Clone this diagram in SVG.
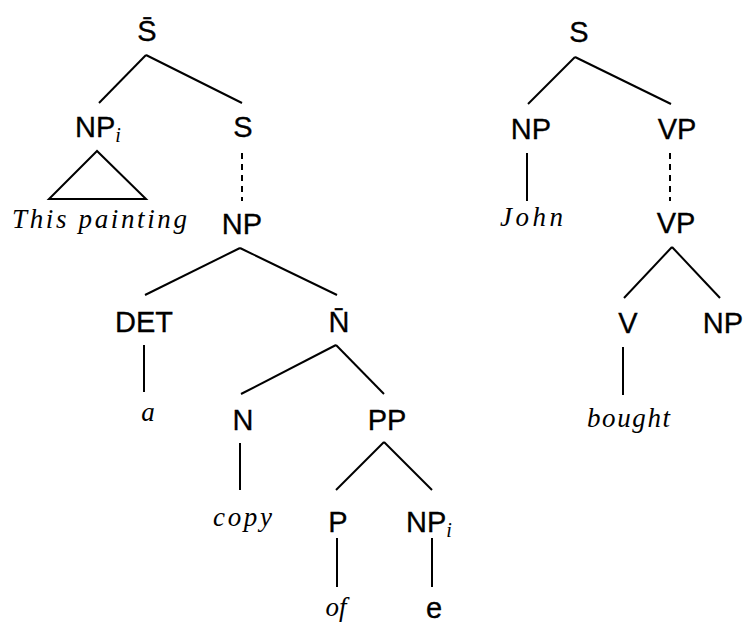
<svg xmlns="http://www.w3.org/2000/svg" width="744" height="627" viewBox="0 0 744 627">
<style>
.cat{font-family:"Liberation Sans","DejaVu Sans",sans-serif;font-size:29px;fill:#000;stroke:#000;stroke-width:0.3;text-anchor:middle}
.word{font-family:"Liberation Serif","DejaVu Serif",serif;font-style:italic;font-size:27px;fill:#000}
.sub{font-family:"Liberation Serif","DejaVu Serif",serif;font-style:italic;font-size:20px;stroke-width:0}
.edge{stroke:#000;stroke-width:2;fill:none}
.dash{stroke:#000;stroke-width:2;fill:none;stroke-dasharray:6 5}
</style>
<rect width="744" height="627" fill="#fff"/>
<g id="connectors">
<line class="edge" x1="146" y1="55" x2="99" y2="103"/>
<line class="edge" x1="146" y1="55" x2="242" y2="103"/>
<polygon class="edge" points="97,151 49,199 146,199"/>
<line class="dash" x1="242" y1="153" x2="242" y2="201"/>
<line class="edge" x1="240" y1="248" x2="145" y2="295"/>
<line class="edge" x1="240" y1="248" x2="337" y2="295"/>
<line class="edge" x1="144" y1="345" x2="144" y2="392"/>
<line class="edge" x1="336" y1="345" x2="241" y2="394"/>
<line class="edge" x1="336" y1="345" x2="384" y2="394"/>
<line class="edge" x1="240" y1="443" x2="240" y2="490"/>
<line class="edge" x1="384" y1="442" x2="336" y2="490"/>
<line class="edge" x1="384" y1="442" x2="432" y2="490"/>
<line class="edge" x1="337" y1="538" x2="337" y2="587"/>
<line class="edge" x1="432" y1="538" x2="432" y2="587"/>
<line class="edge" x1="575" y1="57" x2="528" y2="104"/>
<line class="edge" x1="575" y1="57" x2="671" y2="104"/>
<line class="edge" x1="527" y1="153" x2="527" y2="201"/>
<line class="dash" x1="670" y1="153" x2="670" y2="201"/>
<line class="edge" x1="672" y1="247" x2="624" y2="298"/>
<line class="edge" x1="672" y1="247" x2="720" y2="298"/>
<line class="edge" x1="623" y1="347" x2="623" y2="395"/>
</g>
<g id="n-sbar"><text class="cat" x="147" y="41">S̄</text></g>
<g id="n-npi"><text class="cat" x="75" y="137" style="text-anchor:start">NP<tspan class="sub" dy="5">i</tspan></text></g>
<g id="n-this"><text class="word" x="12" y="228" textLength="175" lengthAdjust="spacing">This painting</text></g>
<g id="n-s"><text class="cat" x="243" y="137">S</text></g>
<g id="n-np"><text class="cat" x="242" y="234">NP</text></g>
<g id="n-det"><text class="cat" x="144" y="332">DET</text></g>
<g id="n-nbar"><text class="cat" x="339" y="332">N̄</text></g>
<g id="n-a"><text class="word" x="148" y="421" text-anchor="middle">a</text></g>
<g id="n-n"><text class="cat" x="243" y="430">N</text></g>
<g id="n-pp"><text class="cat" x="387" y="430">PP</text></g>
<g id="n-copy"><text class="word" x="213" y="526" textLength="59" lengthAdjust="spacing">copy</text></g>
<g id="n-p"><text class="cat" x="338" y="532">P</text></g>
<g id="n-npi2"><text class="cat" x="406" y="532" style="text-anchor:start">NP<tspan class="sub" dy="5">i</tspan></text></g>
<g id="n-of"><text class="word" x="336" y="616" text-anchor="middle">of</text></g>
<g id="n-e"><text class="cat" x="434" y="618">e</text></g>
<g id="n-s2"><text class="cat" x="579" y="42">S</text></g>
<g id="n-np2"><text class="cat" x="531" y="139">NP</text></g>
<g id="n-vp"><text class="cat" x="677" y="139">VP</text></g>
<g id="n-john"><text class="word" x="500" y="226" textLength="63" lengthAdjust="spacing">John</text></g>
<g id="n-vp2"><text class="cat" x="676" y="233">VP</text></g>
<g id="n-v"><text class="cat" x="628" y="333">V</text></g>
<g id="n-np3"><text class="cat" x="723" y="333">NP</text></g>
<g id="n-bought"><text class="word" x="587" y="427" textLength="83" lengthAdjust="spacing">bought</text></g>
</svg>
